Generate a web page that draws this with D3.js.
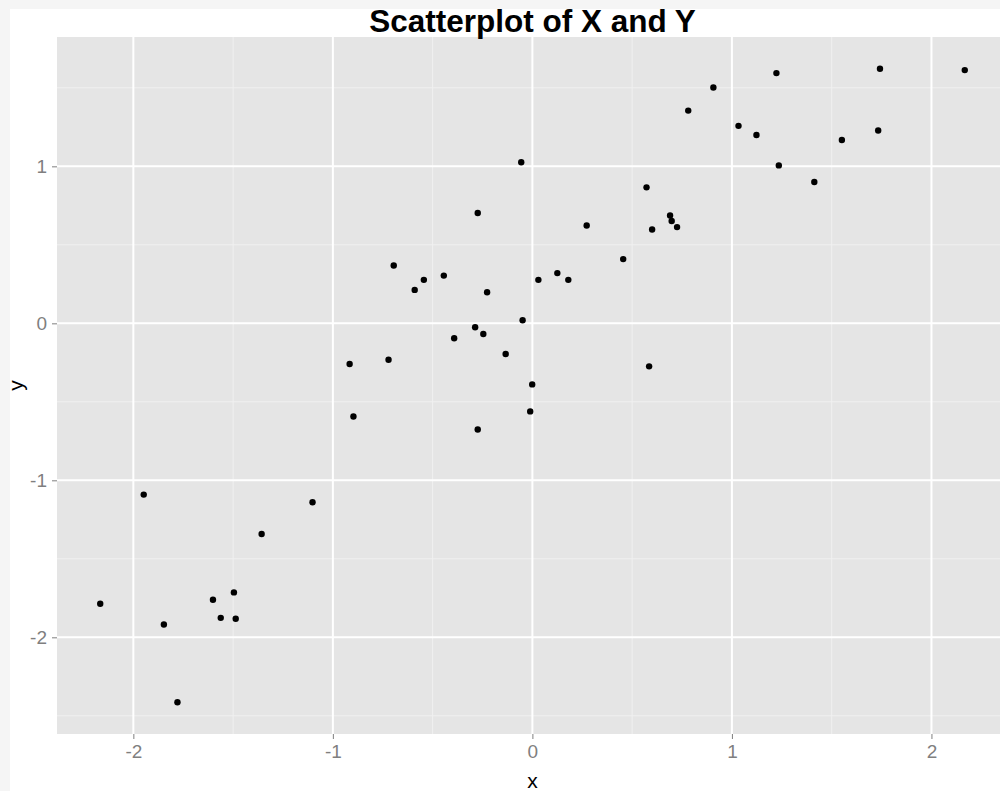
<!DOCTYPE html>
<meta charset="utf-8">
<title>Scatterplot of X and Y</title>
<style>
    body { margin: 0; background: #f5f5f5; }
    svg { display: block; overflow: hidden; }
    .axis text { font-family: "Liberation Sans", Arial, sans-serif; font-size: 19px; fill: #7f7f7f; }
    .axis line { stroke: #7f7f7f; stroke-width: 1px; }
    .axis path { display: none; }
</style>
<script src="https://d3js.org/d3.v7.js"></script>
<body>
<script>
    // values
    const xs = [-2.166, -1.948, -1.847, -1.779, -1.601, -1.562, -1.496, -1.487, -1.357, -1.102,
                -0.916, -0.897, -0.721, -0.695, -0.590, -0.544, -0.444, -0.392, -0.287, -0.274,
                -0.274, -0.246, -0.227, -0.134, -0.056, -0.049, -0.011, -0.001, 0.030, 0.125,
                0.180, 0.272, 0.455, 0.572, 0.585, 0.600, 0.690, 0.698, 0.725, 0.781,
                0.907, 1.033, 1.123, 1.223, 1.235, 1.413, 1.551, 1.733, 1.742, 2.167];
    const ys = [-1.786, -1.091, -1.918, -2.414, -1.761, -1.876, -1.714, -1.882, -1.342, -1.140,
                -0.259, -0.593, -0.232, 0.368, 0.213, 0.277, 0.304, -0.095, -0.025, 0.703,
                -0.676, -0.068, 0.198, -0.195, 1.026, 0.020, -0.561, -0.389, 0.277, 0.320,
                0.277, 0.623, 0.409, 0.866, -0.274, 0.598, 0.687, 0.652, 0.613, 1.355,
                1.502, 1.258, 1.200, 1.594, 1.006, 0.900, 1.168, 1.228, 1.622, 1.613];

    const xTicks = [-2, -1, 0, 1, 2];
    const xMinor = [-1.5, -0.5, 0.5, 1.5];
    const yTicks = [-2, -1, 0, 1];
    const yMinor = [-2.5, -1.5, -0.5, 0.5, 1.5];

    const W = 1000, H = 791;
    const panel = { left: 57, right: 1008, top: 37, bottom: 734 };

    const svg = d3.select("body").append("svg")
        .attr("width", W)
        .attr("height", H);

    // white page area (screenshot has a thin grey frame top and left)
    svg.append("rect")
        .attr("x", 10).attr("y", 9)
        .attr("width", W - 10).attr("height", H - 9)
        .attr("fill", "#ffffff");

    // ggplot style 5% expansion of the data range
    function expand(vals) {
        const [lo, hi] = d3.extent(vals);
        const pad = (hi - lo) * 0.05;
        return [lo - pad, hi + pad];
    }

    const x = d3.scaleLinear().domain(expand(xs)).range([panel.left, panel.right]);
    const y = d3.scaleLinear().domain(expand(ys)).range([panel.bottom, panel.top]);

    svg.append("rect")
        .attr("x", panel.left).attr("y", panel.top)
        .attr("width", panel.right - panel.left)
        .attr("height", panel.bottom - panel.top)
        .attr("fill", "#e5e5e5");

    // minor grid
    svg.selectAll(".vminor").data(xMinor).join("line")
        .attr("x1", d => x(d)).attr("x2", d => x(d))
        .attr("y1", panel.top).attr("y2", panel.bottom)
        .attr("stroke", "#f0f0f0").attr("stroke-width", 1);
    svg.selectAll(".hminor").data(yMinor).join("line")
        .attr("y1", d => y(d)).attr("y2", d => y(d))
        .attr("x1", panel.left).attr("x2", panel.right)
        .attr("stroke", "#f0f0f0").attr("stroke-width", 1);

    // major grid
    svg.selectAll(".vmajor").data(xTicks).join("line")
        .attr("x1", d => x(d)).attr("x2", d => x(d))
        .attr("y1", panel.top).attr("y2", panel.bottom)
        .attr("stroke", "#ffffff").attr("stroke-width", 2);
    svg.selectAll(".hmajor").data(yTicks).join("line")
        .attr("y1", d => y(d)).attr("y2", d => y(d))
        .attr("x1", panel.left).attr("x2", panel.right)
        .attr("stroke", "#ffffff").attr("stroke-width", 2);

    // points
    svg.selectAll(".pt").data(xs).join("circle")
        .attr("cx", d => x(d))
        .attr("cy", (d, i) => y(ys[i]))
        .attr("r", 3.2)
        .attr("fill", "#000000");

    // axes (plain hyphen for negatives, as in the original)
    svg.append("g")
        .attr("class", "axis")
        .attr("transform", `translate(0,${panel.bottom})`)
        .call(d3.axisBottom(x).tickValues(xTicks).tickSize(5).tickPadding(6).tickFormat(d => String(d)));

    svg.append("g")
        .attr("class", "axis")
        .attr("transform", `translate(${panel.left},0)`)
        .call(d3.axisLeft(y).tickValues(yTicks).tickSize(5).tickPadding(5).tickFormat(d => String(d)));

    // title and axis labels
    svg.append("text")
        .attr("x", (panel.left + panel.right) / 2)
        .attr("y", 32)
        .attr("text-anchor", "middle")
        .style("font-family", "'Liberation Sans', Arial, sans-serif")
        .style("font-weight", "bold")
        .style("font-size", "31.5px")
        .text("Scatterplot of X and Y");

    svg.append("text")
        .attr("x", (panel.left + panel.right) / 2)
        .attr("y", 788)
        .attr("text-anchor", "middle")
        .style("font-family", "'Liberation Sans', Arial, sans-serif")
        .style("font-size", "21px")
        .text("x");

    svg.append("text")
        .attr("transform", `translate(23,${(panel.top + panel.bottom) / 2}) rotate(-90)`)
        .attr("text-anchor", "middle")
        .style("font-family", "'Liberation Sans', Arial, sans-serif")
        .style("font-size", "21px")
        .text("y");
</script>
</body>
